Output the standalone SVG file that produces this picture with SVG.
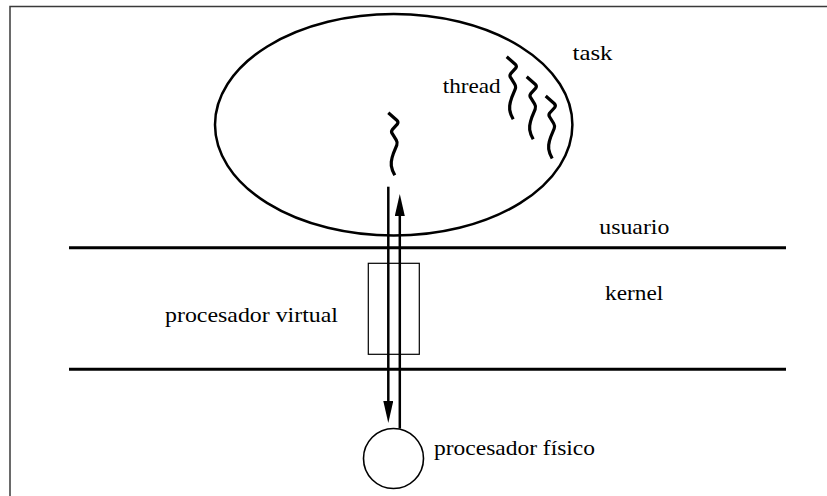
<svg xmlns="http://www.w3.org/2000/svg" width="827" height="496" viewBox="0 0 827 496">
  <style>
    .frame { fill: none; stroke: #3a3a3a; stroke-width: 1.5; }
    .shape { fill: none; stroke: #000; }
    .layer { stroke: #000; stroke-width: 3; }
    .thread { fill: none; stroke: #000; stroke-width: 3.2; stroke-linecap: butt; stroke-linejoin: round; }
    .flow { fill: none; stroke: #000; stroke-width: 2.5; }
    .label { font-family: 'Liberation Serif', 'Times New Roman', serif; font-size: 22px; fill: #000; }
  </style>
  <defs>
    <marker id="arrowhead" viewBox="0 0 22 10" markerWidth="22" markerHeight="10" refX="14" refY="5" orient="auto" markerUnits="userSpaceOnUse">
      <path d="M0,0 L22,5 L0,10 Z" fill="#000"/>
    </marker>
    <!-- one wavy thread glyph, drawn from its top end -->
    <path id="squiggle" d="M0,0 L8.5,7.5 Q10.5,9.5 9,11.5 L4,17 Q2.5,19 4,21 L8,27.5 Q9.5,30 8.5,32.5 L5,41 Q3.5,45 3,49 L3,53 Q3.5,57 6.5,62.5"/>
  </defs>

  <!-- page frame -->
  <path class="frame" d="M10,496 L10,6.5 L827,6.5"/>

  <!-- user / kernel boundary lines -->
  <g id="layers">
    <line class="layer" x1="69" y1="247.7" x2="786" y2="247.7"/>
    <line class="layer" x1="69" y1="369.3" x2="786" y2="369.3"/>
  </g>

  <g id="task">
    <ellipse class="shape" cx="393.7" cy="124.8" rx="178.7" ry="110.8" stroke-width="2.5"/>
    <text class="label" x="572.5" y="60" textLength="40" lengthAdjust="spacingAndGlyphs">task</text>
  </g>

  <g id="threads">
    <use href="#squiggle" class="thread" x="506.7" y="56.7"/>
    <use href="#squiggle" class="thread" x="526.7" y="76.7"/>
    <use href="#squiggle" class="thread" x="545.7" y="96"/>
    <text class="label" x="442.7" y="92.7" textLength="58" lengthAdjust="spacingAndGlyphs">thread</text>
  </g>

  <g id="active-thread">
    <use href="#squiggle" class="thread" x="388.3" y="112.7"/>
  </g>

  <g id="virtual-processor">
    <rect class="shape" x="368.3" y="263.3" width="51" height="91" stroke-width="1.2"/>
    <text class="label" x="165" y="322" textLength="173" lengthAdjust="spacingAndGlyphs">procesador virtual</text>
  </g>

  <g id="physical-processor">
    <circle class="shape" cx="393.5" cy="458.5" r="30" stroke-width="1.6"/>
    <text class="label" x="434" y="455" textLength="161" lengthAdjust="spacingAndGlyphs">procesador físico</text>
  </g>

  <g id="mode-labels">
    <text class="label" x="599.3" y="234.3" textLength="70" lengthAdjust="spacingAndGlyphs">usuario</text>
    <text class="label" x="605" y="300" textLength="58.3" lengthAdjust="spacingAndGlyphs">kernel</text>
  </g>

  <g id="connectors">
    <line class="flow" x1="388.3" y1="186.7" x2="388.3" y2="415" marker-end="url(#arrowhead)"/>
    <line class="flow" x1="399.8" y1="428.5" x2="399.8" y2="202" marker-end="url(#arrowhead)"/>
  </g>
</svg>
